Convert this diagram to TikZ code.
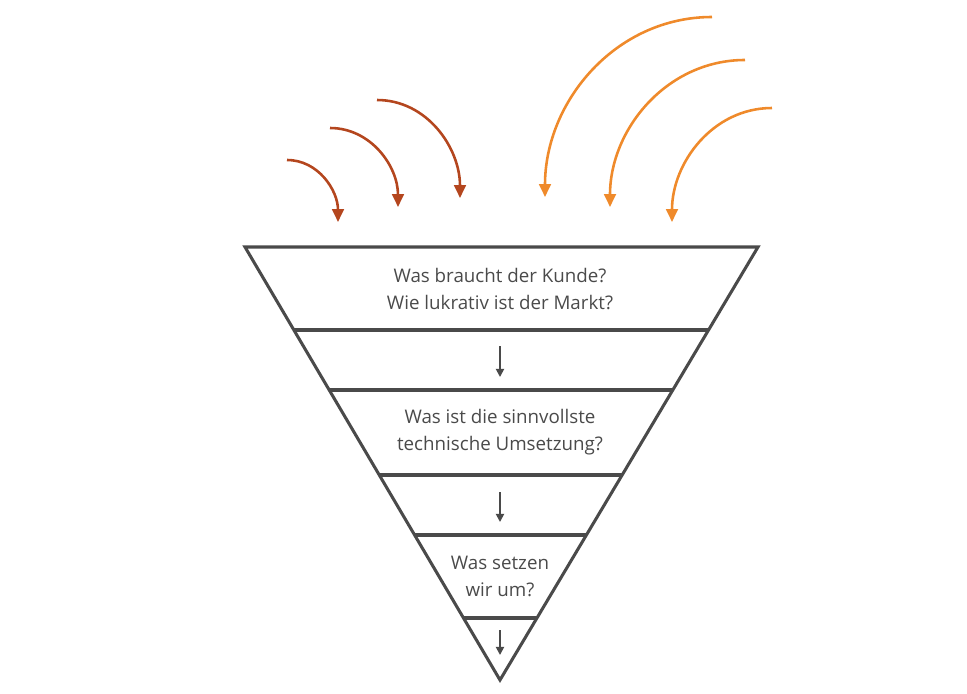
\documentclass[tikz,border=0pt]{standalone}
\usepackage{fontspec}
\setmainfont{Open Sans}
\usetikzlibrary{arrows.meta}
\definecolor{funnelgray}{HTML}{4A4A4A}
\definecolor{rust}{HTML}{B4461E}
\definecolor{tangerine}{HTML}{EF8A2B}
\tikzset{
  band/.style={draw=funnelgray,line width=2.6pt},
  question/.style={text=funnelgray,align=center,font=\fontsize{16}{23}\selectfont},
  step arrow/.style={draw=funnelgray,line width=1.5pt,-{Triangle[length=7pt,width=7pt]}},
  inflow/.style={line width=2.2pt,-{Triangle[length=11pt,width=10pt]}}
}
\begin{document}
\begin{tikzpicture}[x=0.03cm,y=-0.03cm]
\useasboundingbox (0,0) rectangle (967,694);
% Funnel outline
\coordinate (tl) at (245,247);
\coordinate (tr) at (758,247);
\coordinate (apex) at (500,680);
\draw[band,line join=miter] (tl) -- (tr) -- (apex) -- cycle;

% Horizontal bands
\foreach \y in {330,390,475,535,618}
\draw[band] ({245+0.5889*(\y-247)},\y) -- ({758-0.5958*(\y-247)},\y);

% Questions
\node[question] (market) at (500,289) {Was braucht der Kunde?\\Wie lukrativ ist der Markt?};
\node[question] (tech) at (500,432) {Was ist die sinnvollste\\technische Umsetzung?};
\node[question] (build) at (500,576) {Was setzen\\wir um?};

% Step arrows
\foreach \a/\b in {346/377,492/522,630/655}
\draw[step arrow] (500,\a) -- (500,\b);

% Inflow arrows
\draw[inflow,rust] (287,160) to[out=0,in=90] (338,222);
\draw[inflow,rust] (330,128) to[out=0,in=90] (398,207);
\draw[inflow,rust] (377,100) to[out=0,in=90] (460,198);
\draw[inflow,tangerine] (712,17) to[out=180,in=90] (545,197);
\draw[inflow,tangerine] (745,60) to[out=180,in=90] (610,207);
\draw[inflow,tangerine] (772,108) to[out=180,in=90] (672,222);
\end{tikzpicture}
\end{document}
